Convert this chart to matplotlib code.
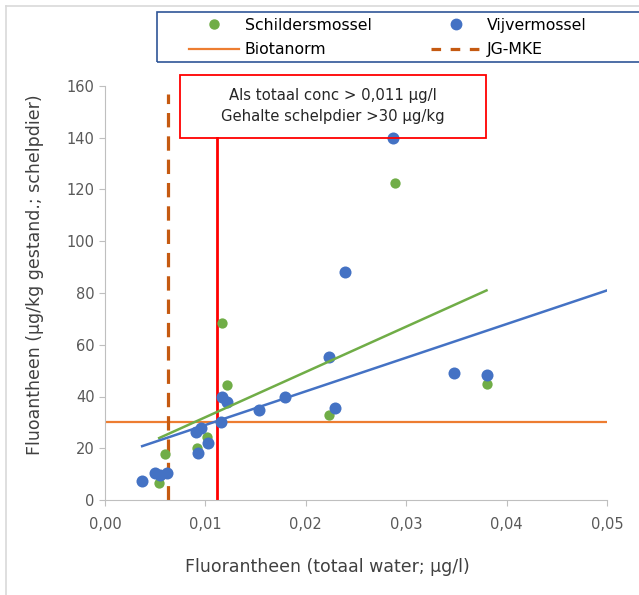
"""Fluorantheen in mosselen tegen totaal water, met biotanorm en JG-MKE.
"""

import numpy as np
import matplotlib.pyplot as plt
from matplotlib.lines import Line2D
from matplotlib.patches import Rectangle

plt.rcParams['font.family'] = ['DejaVu Sans']

# Schildersmossel (green)
schilder_x = [0.0054, 0.0060, 0.0092, 0.0102, 0.0117, 0.0122, 0.0223, 0.0289, 0.0380]
schilder_y = [6.4, 17.8, 20.0, 24.4, 68.5, 44.4, 32.8, 122.4, 44.8]

# Vijvermossel (blue)
vijver_x = [0.0037, 0.0050, 0.0055, 0.0062, 0.0091, 0.0096, 0.0093, 0.0103, 0.0116,
            0.0117, 0.0122, 0.0153, 0.0179, 0.0223, 0.0229, 0.0239, 0.0287, 0.0348, 0.0380]
vijver_y = [7.5, 10.5, 9.6, 10.3, 26.4, 27.7, 18.0, 21.9, 30.2,
            39.9, 38.0, 34.7, 39.9, 55.3, 35.4, 88.1, 140.0, 48.9, 48.3]

# linear trendlines (slope, intercept) as shown in the chart
schilder_trend = (1750.0, 14.5)
vijver_trend = (1300.0, 16.0)

biotanorm = 30.0        # µg/kg
jg_mke = 0.0063         # µg/l
grens_conc = 0.0112     # µg/l (red line)
grens_top = 140.0

xticks = [0.0, 0.01, 0.02, 0.03, 0.04, 0.05]
xticklabels = ['0,00', '0,01', '0,02', '0,03', '0,04', '0,05']
yticks = [0, 20, 40, 60, 80, 100, 120, 140, 160]

c_green = '#70AD47'
c_blue = '#4472C4'
c_orange = '#ED7D31'
c_dash = '#C55A11'
grey = '#595959'

fig = plt.figure(figsize=(6.39, 5.95), dpi=100)
ax = fig.add_axes([105 / 639, 1 - 500 / 595, 502 / 639, 414 / 595])

# thin outer chart frame
fig.add_artist(Line2D([6 / 639, 6 / 639], [0, 1 - 6 / 595], transform=fig.transFigure,
                      color='#d9d9d9', lw=1.2))
fig.add_artist(Line2D([6 / 639, 1], [1 - 6 / 595, 1 - 6 / 595], transform=fig.transFigure,
                      color='#d9d9d9', lw=1.2))

ax.axhline(biotanorm, xmin=0, xmax=1, color=c_orange, lw=1.6, zorder=2)
ax.plot([jg_mke, jg_mke], [0, 157], color=c_dash, lw=2.3, dashes=(4.5, 2.8), zorder=2)
ax.plot([grens_conc, grens_conc], [0, grens_top], color='#FF0000', lw=2.0, zorder=2)

ax.scatter(schilder_x, schilder_y, s=55, color=c_green, zorder=3, linewidths=0)
ax.scatter(vijver_x, vijver_y, s=75, color=c_blue, zorder=4, linewidths=0)

xs = np.array([min(schilder_x), max(schilder_x)])
ax.plot(xs, schilder_trend[0] * xs + schilder_trend[1], color=c_green, lw=1.8, zorder=5)
xv = np.array([min(vijver_x), xticks[-1]])
ax.plot(xv, vijver_trend[0] * xv + vijver_trend[1], color=c_blue, lw=1.8, zorder=5)

ax.set_xlim(0, 0.05)
ax.set_ylim(0, 160)
ax.set_xticks(xticks)
ax.set_xticklabels(xticklabels)
ax.set_yticks(yticks)
for s in ['top', 'right']:
    ax.spines[s].set_visible(False)
for s in ['left', 'bottom']:
    ax.spines[s].set_color('#bfbfbf')
ax.tick_params(colors='#bfbfbf', labelcolor=grey, labelsize=10.5, length=4)
ax.tick_params(axis='x', pad=8)

# red annotation box
ax.add_patch(Rectangle((0.00743, grens_top), 0.0305, 24.3, fill=False, edgecolor='#FF0000',
                       lw=1.3, clip_on=False, zorder=6))
ax.text(0.0227, 156.2, 'Als totaal conc > 0,011 µg/l', ha='center', va='center',
        fontsize=10.7, color='#262626', clip_on=False)
ax.text(0.0227, 148.2, 'Gehalte schelpdier >30 µg/kg', ha='center', va='center',
        fontsize=10.7, color='#262626', clip_on=False)

fig.text(35 / 639, 1 - 275 / 595, 'Fluoantheen (µg/kg gestand.; schelpdier)', rotation=90,
         ha='center', va='center', fontsize=12.5, color='#404040')
fig.text(327 / 639, 1 - 567 / 595, 'Fluorantheen (totaal water; µg/l)',
         ha='center', va='center', fontsize=12.5, color='#404040')

# legend: frame plus two columns
fig.add_artist(Rectangle((157 / 639, 1 - 62 / 595), 500 / 639, 50 / 595,
                         transform=fig.transFigure, fill=False,
                         edgecolor='#2F5597', lw=1.2))
col1 = [Line2D([], [], ls='none', marker='o', ms=6.5, color=c_green),
        Line2D([], [], color=c_orange, lw=1.6)]
col2 = [Line2D([], [], ls='none', marker='o', ms=7.5, color=c_blue),
        Line2D([], [], color=c_dash, lw=2.3, dashes=(3, 3))]
for hs, labs, x0 in [(col1, ['Schildersmossel', 'Biotanorm'], 185),
                     (col2, ['Vijvermossel', 'JG-MKE'], 427)]:
    fig.legend(hs, labs, loc='upper left', bbox_to_anchor=(x0 / 639, 1 - 14 / 595),
               frameon=False, fontsize=11.3, borderaxespad=0, borderpad=0.25,
               handlelength=3.2, handletextpad=0.35, labelspacing=0.6)

fig.savefig('out.png', dpi=100)
